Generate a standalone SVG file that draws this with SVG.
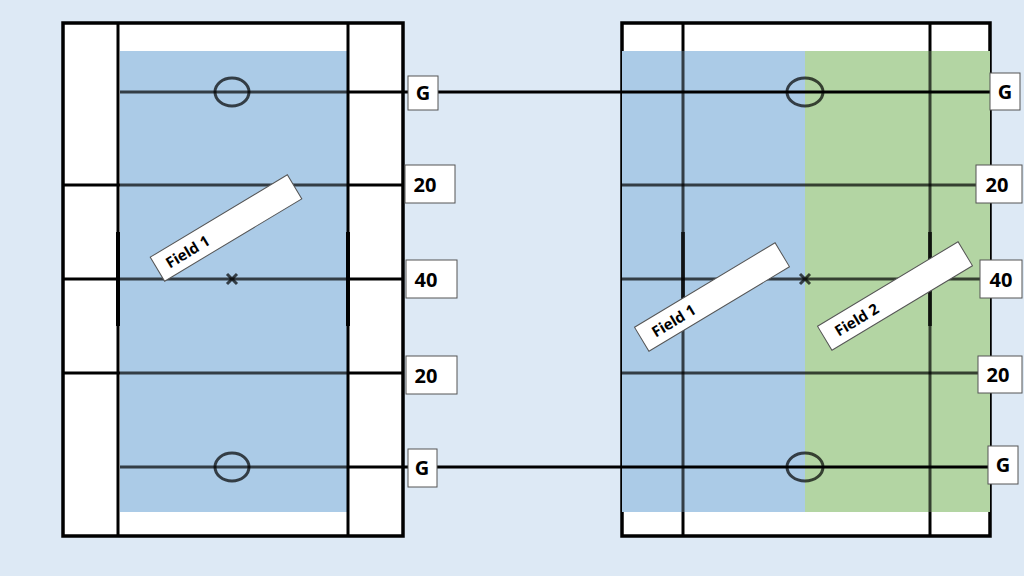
<svg xmlns="http://www.w3.org/2000/svg" width="1024" height="576" viewBox="0 0 1024 576">
<style>
.ln{stroke:#000;stroke-width:3;fill:none}
.th{stroke:#000;stroke-width:4;fill:none}
.ov{stroke-opacity:0.7}
.outer{stroke:#000;stroke-width:3.5;fill:#fff}
.box{fill:#fff;stroke:#555;stroke-width:1}
.t{font-family:"Open Sans","Liberation Sans",sans-serif;font-weight:bold;font-size:20px;fill:#000;text-anchor:middle}
.f{font-family:"Open Sans","Liberation Sans",sans-serif;font-weight:bold;font-size:15px;fill:#000;text-anchor:middle}
</style>
<rect width="1024" height="576" fill="#dde9f5"/>
<g id="field-left">
<rect x="63" y="23" width="340" height="513" class="outer"/>
<rect x="120" y="51" width="227" height="461" fill="#abcbe7"/>
<line class="ln" x1="118" y1="23" x2="118" y2="536"/>
<line class="ln" x1="348" y1="23" x2="348" y2="536"/>
<line class="ln" x1="63" y1="185" x2="120" y2="185"/>
<line class="ln" x1="63" y1="279" x2="120" y2="279"/>
<line class="ln" x1="63" y1="373" x2="120" y2="373"/>
<line class="ln" x1="347" y1="185" x2="403" y2="185"/>
<line class="ln" x1="347" y1="279" x2="403" y2="279"/>
<line class="ln" x1="347" y1="373" x2="403" y2="373"/>
<line class="th" x1="118" y1="232" x2="118" y2="326"/>
<line class="th" x1="348" y1="232" x2="348" y2="326"/>
<line class="ln ov" x1="120" y1="185" x2="347" y2="185"/>
<line class="ln ov" x1="120" y1="279" x2="347" y2="279"/>
<line class="ln ov" x1="120" y1="373" x2="347" y2="373"/>
<line class="ln ov" x1="120" y1="92" x2="347" y2="92"/>
<line class="ln ov" x1="120" y1="467" x2="347" y2="467"/>
<ellipse class="ln ov" cx="232" cy="92" rx="17" ry="14"/>
<ellipse class="ln ov" cx="232" cy="467" rx="17" ry="14"/>
<path class="ln ov" d="M227 274l10 10M237 274l-10 10" stroke-width="2"/>
<line class="ln" x1="347" y1="92" x2="408" y2="92"/>
<line class="ln" x1="347" y1="467" x2="408" y2="467"/>
</g>
<g id="field-right">
<rect x="622" y="23" width="368" height="513" class="outer"/>
<rect x="622" y="51" width="183" height="461" fill="#abcbe7"/>
<rect x="805" y="51" width="185" height="461" fill="#b3d5a3"/>
<line class="ln ov" x1="683" y1="51" x2="683" y2="512"/>
<line class="ln ov" x1="930" y1="51" x2="930" y2="512"/>
<line class="ln" x1="683" y1="23" x2="683" y2="51"/>
<line class="ln" x1="683" y1="512" x2="683" y2="536"/>
<line class="ln" x1="930" y1="23" x2="930" y2="51"/>
<line class="ln" x1="930" y1="512" x2="930" y2="536"/>
<line class="ln ov" x1="622" y1="185" x2="990" y2="185"/>
<line class="ln ov" x1="622" y1="279" x2="990" y2="279"/>
<line class="ln ov" x1="622" y1="373" x2="990" y2="373"/>
<line class="th ov" x1="683" y1="232" x2="683" y2="326"/>
<line class="th ov" x1="930" y1="232" x2="930" y2="326"/>
<ellipse class="ln ov" cx="805" cy="92" rx="18" ry="14"/>
<ellipse class="ln ov" cx="805" cy="467" rx="18" ry="14"/>
<path class="ln ov" d="M800 274l10 10M810 274l-10 10" stroke-width="2"/>
</g>
<g id="connectors">
<line class="ln" x1="438" y1="92" x2="990" y2="92"/>
<line class="ln" x1="437" y1="467" x2="988" y2="467"/>
</g>
<g id="labels">
<rect class="box" x="408" y="76" width="30" height="34"/><text class="t" x="423" y="100">G</text>
<rect class="box" x="405" y="165" width="50" height="38"/><text class="t" x="425" y="192">20</text>
<rect class="box" x="406" y="260" width="51" height="38"/><text class="t" x="426" y="287">40</text>
<rect class="box" x="406" y="356" width="51" height="38"/><text class="t" x="426" y="383">20</text>
<rect class="box" x="408" y="449" width="29" height="38"/><text class="t" x="422" y="475">G</text>
<rect class="box" x="990" y="73" width="30" height="37"/><text class="t" x="1005" y="99">G</text>
<rect class="box" x="976" y="165" width="46" height="38"/><text class="t" x="997" y="192">20</text>
<rect class="box" x="980" y="260" width="42" height="38"/><text class="t" x="1001" y="287">40</text>
<rect class="box" x="978" y="356" width="44" height="37"/><text class="t" x="998" y="382">20</text>
<rect class="box" x="988" y="446" width="30" height="38"/><text class="t" x="1003" y="472">G</text>
</g>
<g id="field-labels">
<g transform="translate(226,228) rotate(-31)"><rect class="box" x="-80" y="-14" width="160" height="28"/><text class="f" x="-45" y="6">Field 1</text></g>
<g transform="translate(712,297) rotate(-31)"><rect class="box" x="-82" y="-14" width="164" height="28"/><text class="f" x="-45" y="6">Field 1</text></g>
<g transform="translate(895,296) rotate(-31)"><rect class="box" x="-82" y="-14" width="164" height="28"/><text class="f" x="-45" y="6">Field 2</text></g>
</g>
</svg>
